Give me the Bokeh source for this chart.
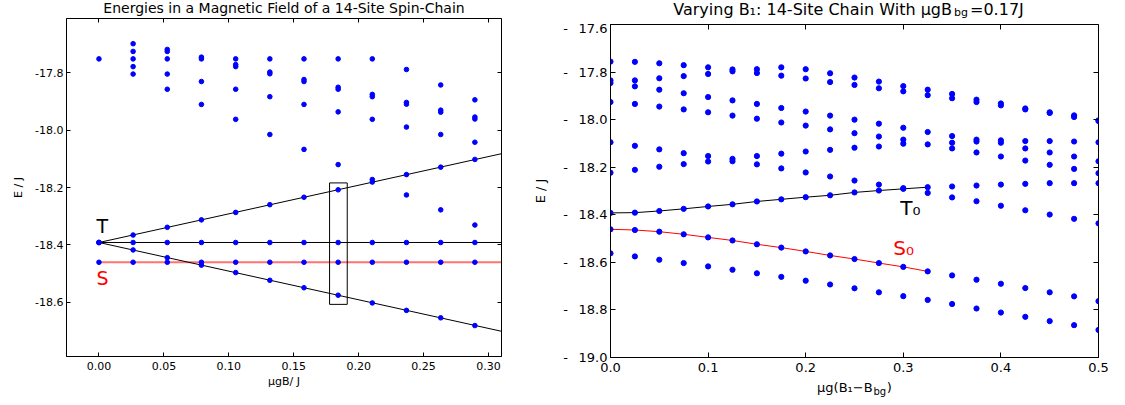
from bokeh.plotting import figure
from bokeh.layouts import row, column
from bokeh.models import Range1d, LinearAxis, FixedTicker, NumeralTickFormatter, Label
from bokeh.embed import file_html
from bokeh.resources import INLINE

FONT = "DejaVu Sans"

# ---------------- Left panel data ----------------
left_x = [0.0, 0.0263, 0.0526, 0.0789, 0.1053, 0.1316, 0.1579, 0.1842, 0.2105, 0.2368, 0.2632, 0.2895]
left_upper = [
    [-17.751],
    [-17.698, -17.725, -17.751, -17.778, -17.804],
    [-17.718, -17.725, -17.751, -17.804, -17.857],
    [-17.745, -17.751, -17.830, -17.910],
    [-17.751, -17.771, -17.778, -17.857, -17.962],
    [-17.751, -17.797, -17.803, -17.883, -18.015],
    [-17.751, -17.823, -17.830, -17.910, -18.067],
    [-17.751, -17.850, -17.857, -17.936, -18.120],
    [-17.751, -17.875, -17.883, -17.962, -18.172],
    [-17.788, -17.903, -17.909, -17.989, -18.226],
    [-17.842, -17.930, -17.937, -18.015, -18.278],
    [-17.894, -17.954, -17.961, -18.042, -18.331],
]
left_tplus = [-18.392, -18.366, -18.339, -18.313, -18.287, -18.260, -18.234, -18.208, -18.181, -18.155, -18.129, -18.102]
left_tzero = [-18.392] * 12
left_tminus = [-18.392, -18.418, -18.445, -18.471, -18.497, -18.524, -18.550, -18.576, -18.603, -18.629, -18.655, -18.682]
left_singlet = [-18.461] * 12

line_x = [0.0, 0.31]
line_tplus = [-18.392, -18.082]
line_tzero = [-18.392, -18.392]
line_tminus = [-18.392, -18.702]
line_singlet = [-18.461, -18.461]

box_x = [0.1776, 0.1912]
box_y = [-18.608, -18.184]

left_xticks = [0.0, 0.05, 0.10, 0.15, 0.20, 0.25, 0.30]
left_yticks = [-18.6, -18.4, -18.2, -18.0, -17.8]

# ---------------- Right panel data ----------------
right_x = [0.0, 0.025, 0.05, 0.075, 0.1, 0.125, 0.15, 0.175, 0.2, 0.225, 0.25,
           0.275, 0.3, 0.325, 0.35, 0.375, 0.4, 0.425, 0.45, 0.475, 0.5]
right_levels = [
    [-17.756, -17.835, -17.846, -17.926, -18.095, -18.223, -18.562],
    [-17.757, -17.835, -17.860, -17.934, -18.110, -18.211, -18.575],
    [-17.763, -17.826, -17.874, -17.945, -18.125, -18.198, -18.589],
    [-17.771, -17.817, -17.889, -17.957, -18.141, -18.187, -18.603],
    [-17.780, -17.808, -17.905, -17.969, -18.153, -18.176, -18.617],
    [-17.789, -17.797, -17.919, -17.983, -18.165, -18.175, -18.631],
    [-17.788, -17.804, -17.934, -17.996, -18.153, -18.188, -18.646],
    [-17.780, -17.815, -17.951, -18.012, -18.143, -18.205, -18.661],
    [-17.788, -17.827, -17.966, -18.025, -18.134, -18.222, -18.677],
    [-17.805, -17.842, -17.983, -18.041, -18.127, -18.239, -18.693],
    [-17.823, -17.854, -18.000, -18.057, -18.118, -18.256, -18.709],
    [-17.840, -17.868, -18.017, -18.071, -18.113, -18.273, -18.726],
    [-17.859, -17.881, -18.034, -18.084, -18.101, -18.288, -18.742],
    [-17.874, -17.897, -18.052, -18.104, -18.308, -18.758],
    [-17.892, -17.910, -18.069, -18.097, -18.121, -18.281, -18.327, -18.655, -18.775],
    [-17.916, -17.926, -18.084, -18.092, -18.138, -18.277, -18.343, -18.673, -18.794],
    [-17.932, -17.940, -18.087, -18.097, -18.155, -18.273, -18.362, -18.690, -18.811],
    [-17.953, -17.957, -18.090, -18.121, -18.172, -18.270, -18.381, -18.708, -18.829],
    [-17.969, -17.972, -18.090, -18.138, -18.190, -18.267, -18.399, -18.726, -18.847],
    [-17.982, -17.989, -18.092, -18.155, -18.207, -18.267, -18.417, -18.743, -18.864],
    [-18.003, -18.006, -18.095, -18.175, -18.225, -18.267, -18.436, -18.763, -18.884],
]
t0_x = [0.0, 0.025, 0.05, 0.075, 0.1, 0.125, 0.15, 0.175, 0.2, 0.225, 0.25, 0.275, 0.3, 0.325]
t0_e = [-18.392, -18.391, -18.384, -18.375, -18.365, -18.356, -18.344, -18.335, -18.326, -18.318,
        -18.306, -18.298, -18.291, -18.284]
s0_e = [-18.461, -18.464, -18.471, -18.482, -18.495, -18.508, -18.524, -18.538, -18.554, -18.571,
        -18.586, -18.603, -18.619, -18.638]

right_xticks = [0.0, 0.1, 0.2, 0.3, 0.4, 0.5]
right_yticks = [-19.0, -18.8, -18.6, -18.4, -18.2, -18.0, -17.8, -17.6]
GAP = "\u2002\u00a0"
right_ylabels = ["-" + GAP + v for v in ["19.0", "18.8", "18.6", "18.4", "18.2", "18.0", "17.8", "17.6"]]

# ---------------- layout constants (page pixels) ----------------
W1, W2 = 530, 595
H2 = 20            # height of the right title strip
LX0, LX1, LY0, LY1 = -0.025, 0.31, -18.79, -17.61
RX0, RX1, RY0, RY1 = 0.0, 0.5, -19.0, -17.6
BASE = 0.47  # shift of Bokeh's alphabetic baseline, in em


def L(px, py):
    return (LX0 + (px - 66) * (LX1 - LX0) / 435.0, LY1 - (py - 18) * (LY1 - LY0) / 338.0)


def R(px, py):
    return (RX0 + (px - 608) * (RX1 - RX0) / 490.0, RY1 - (py - 24) * (RY1 - RY0) / 333.0)


def dummy_axis(ticks, tick_len, loc):
    return LinearAxis(ticker=FixedTicker(ticks=ticks), major_label_text_font_size="0px",
                      major_label_text_color=None, major_label_standoff=0,
                      major_tick_in=tick_len, major_tick_out=0, fixed_location=loc,
                      minor_tick_in=0, minor_tick_out=0, axis_line_color="black",
                      major_tick_line_color="black")


def style(p, xticks, yticks, fs, tick_len, xend, yend):
    p.grid.visible = False
    p.outline_line_color = "black"
    p.outline_line_width = 1
    xa, ya = p.below[0], p.left[0]
    xa.ticker = FixedTicker(ticks=xticks)
    ya.ticker = FixedTicker(ticks=yticks)
    for ax in (xa, ya):
        ax.major_label_text_font = FONT
        ax.major_label_text_font_size = fs
        ax.major_label_text_color = "black"
        ax.major_tick_in = tick_len
        ax.major_tick_out = 0
        ax.minor_tick_in = 0
        ax.minor_tick_out = 0
        ax.axis_line_color = "black"
        ax.major_tick_line_color = "black"
        ax.axis_label_text_font = FONT
        ax.axis_label_text_font_style = "normal"
        ax.axis_label_text_color = "black"
    ya.major_label_standoff = 3
    xa.major_label_standoff = 5
    p.add_layout(dummy_axis(xticks, tick_len, yend), "above")
    p.add_layout(dummy_axis(yticks, tick_len, xend), "right")
    return xa, ya


def strip(w, x0, x1, h):
    # its frame is aligned by the column layout with the plot below/above it
    s = figure(width=w, height=h, x_range=Range1d(x0, x1), y_range=Range1d(h, 0),
               output_backend="svg", toolbar_location=None,
               x_axis_location=None, y_axis_location=None, min_border=0,
               outline_line_color=None, background_fill_color="white", border_fill_color="white")
    s.grid.visible = False
    return s


def add_text(fig, x, y, text, size, color="black", align="left"):
    fig.add_layout(Label(x=x, y=y, text=text, text_font=FONT, text_font_size=f"{size}px",
                         text_color=color, text_align=align, text_baseline="alphabetic"))


# ---------------- Left figure ----------------
p1 = figure(width=W1, height=388, output_backend="svg", toolbar_location=None,
            x_range=Range1d(LX0, LX1), y_range=Range1d(LY0, LY1),
            min_border_left=66, min_border_right=W1 - 66 - 435, min_border_top=1, min_border_bottom=49,
            background_fill_color="white", border_fill_color="white")
xa1, ya1 = style(p1, left_xticks, left_yticks, "11px", 4, LX1, LY1)
xa1.formatter = NumeralTickFormatter(format="0.00")
ya1.formatter = NumeralTickFormatter(format="0.0")
xa1.axis_label = "μgB/ J"
xa1.axis_label_text_font_size = "11px"
xa1.axis_label_standoff = 2
ya1.axis_label = "E / J"
ya1.axis_label_text_font_size = "11px"
ya1.axis_label_standoff = 7

p1.line(line_x, line_singlet, line_color="red", line_width=2, line_alpha=0.55)
p1.line(line_x, line_tplus, line_color="black", line_width=1)
p1.line(line_x, line_tzero, line_color="black", line_width=1)
p1.line(line_x, line_tminus, line_color="black", line_width=1)
p1.quad(left=[box_x[0]], right=[box_x[1]], bottom=[box_y[0]], top=[box_y[1]],
        fill_color=None, line_color="black", line_width=1)

lxs, lys = [], []
for x, levels in zip(left_x, left_upper):
    for e in levels:
        lxs.append(x)
        lys.append(e)
for series in (left_tplus, left_tzero, left_tminus, left_singlet):
    lxs.extend(left_x)
    lys.extend(series)
p1.scatter(lxs, lys, size=4.6, fill_color="blue", line_color="blue")

tx, ty = L(96, 234 - BASE * 19)
add_text(p1, tx, ty, "T", 19)
tx, ty = L(96, 286 - BASE * 19)
add_text(p1, tx, ty, "S", 19, color="red")

s1 = strip(W1, 66, 501, 17)
add_text(s1, 283.5, 14 - BASE * 14, "Energies in a Magnetic Field of a 14-Site Spin-Chain", 14, align="center")

# ---------------- Right figure ----------------
p2 = figure(width=W2, height=405 - H2 - 26, output_backend="svg", toolbar_location=None,
            x_range=Range1d(RX0, RX1), y_range=Range1d(RY0, RY1),
            min_border_left=608 - W1, min_border_right=W2 - (608 - W1) - 490,
            min_border_top=24 - H2, min_border_bottom=22,
            background_fill_color="white", border_fill_color="white")
xa2, ya2 = style(p2, right_xticks, right_yticks, "13px", 5, RX1, RY1)
xa2.formatter = NumeralTickFormatter(format="0.0")
ya2.major_label_overrides = {t: s for t, s in zip(right_yticks, right_ylabels)}
ya2.axis_label = "E / J"
ya2.axis_label_text_font_size = "13px"
ya2.axis_label_standoff = 12

p2.line(t0_x, t0_e, line_color="black", line_width=1)
p2.line(t0_x, s0_e, line_color="red", line_width=1)

rxs, rys = [], []
for x, levels in zip(right_x, right_levels):
    for e in levels:
        rxs.append(x)
        rys.append(e)
rxs.extend(t0_x)
rys.extend(t0_e)
rxs.extend(t0_x)
rys.extend(s0_e)
p2.scatter(rxs, rys, size=5.2, fill_color="blue", line_color="blue")

tx, ty = R(899, 216.7 - BASE * 20)
add_text(p2, tx, ty, "T₀", 20)
tx, ty = R(892, 257 - BASE * 20)
add_text(p2, tx, ty, "S₀", 20, color="red")

s2 = strip(W2, 608, 1098, H2)
add_text(s2, 671, 16.2 - BASE * 16, "Varying B₁: 14-Site Chain With μgB", 16)
add_text(s2, 953, 17.3 - BASE * 11, "bg", 11)
add_text(s2, 969, 16.2 - BASE * 16, "=0.17J", 16)

s3 = strip(W2, 608, 1098, 26)
add_text(s3, 815.4, 13.7 - BASE * 13, "μg(B₁−B", 13)
add_text(s3, 872, 16.5 - BASE * 10, "bg", 10)
add_text(s3, 885.5, 13.7 - BASE * 13, ")", 13)

layout = row(column(s1, p1), column(s2, p2, s3))
open("out.html", "w").write(file_html(layout, INLINE))
